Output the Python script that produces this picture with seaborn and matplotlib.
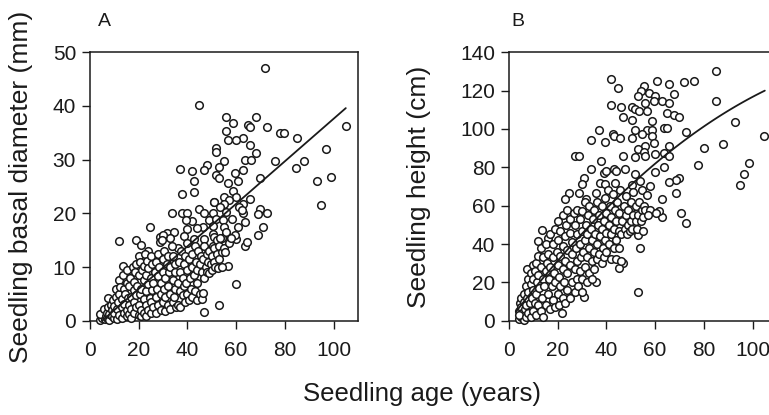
import numpy as np
import pandas as pd
import matplotlib
matplotlib.use("Agg")
import matplotlib.pyplot as plt
import seaborn as sns

# ---------------- Panel A: basal diameter (mm) vs age (years) ----------------
a_age = [71.7,44.9,55.8,68.0,58.8,55.8,65.0,65.8,72.8,77.8,79.8,105,84.8,62.8,56.8,59.8,65.8,51.8,51.8,96.8,
         68.0,76.0,87.8,63.8,66.0,54.9,47.9,84.6,36.8,41.8,46.9,52.8,62.8,51.8,59.7,52.8,69.8,93.0,99.0,42.9,
         60.9,56.8,42.9,58.8,37.9,54.9,59.8,65.8,50.8,62.8,94.9,44.9,69.8,33.7,37.9,39.9,72.8,46.9,62.8,68.9,
         41.8,63.8,24.8,70.9,68.9,11.8,18.8,59.8,63.8,56.8,59.8,53.1,46.9,13.7,
         57.2,51.1,54.9,53.5,61.0,62.4,50.4,55.9,39.6,48.8,51.8,54.5,46.4,50.4,55.2,60.6,31.6,34.3,39.8,43.9,
         50.4,55.9,59.6,28.8,32.9,38.4,42.5,46.6,50.8,54.1,64.4,30.0,20.9,23.9,28.7,36.0,
         4,4.5,5,5,5.5,6,6,4.2,5.8,6.5,
         7,7,7.5,7.5,8,8,8.5,9,9,9.5,10,10,10,10.5,10.5,
         11,11,11.5,12,12,12,12.5,13,13,13,13.5,14,14,14,14.5,15,15,15,15,15.5,
         16,16,16,16.5,17,17,17,17.5,18,18,18,18,18.5,19,19,19,19.5,20,20,20,20,20.5,20.5,
         21,21,21,21.5,22,22,22,22,22.5,23,23,23,23,23.5,24,24,24,24.5,25,25,25,25,25.5,25.5,
         26,26,26.5,27,27,27,27.5,28,28,28,28.5,29,29,29,29.5,30,30,30,30.5,30.5,
         31,31,31,31.5,32,32,32,32.5,33,33,33,33.5,34,34,34,34.5,35,35,35,35.5,
         36,36,36.5,37,37,37,37.5,38,38,38.5,38.5,39,39,39.5,40,40,40,40.5,40.5,41,
         41.5,42,42,42,42.5,43,43,43.5,44,44,44,44.5,45,45,45.5,46,46,46.5,46.5,47,
         47,47.5,48,48,48.5,49,49,49.5,50,50,50.5,51,51,51.5,52,52,52.5,
         53,53,54,54,55,55.5,56,57,58,58.5,53.5]
a_diam = [47.0,40.1,38.0,38.0,36.8,35.4,36.5,36.0,36.0,35.0,35.0,36.2,34.0,34.0,33.6,33.6,32.8,32.2,31.5,32.0,
          31.3,29.8,29.8,29.9,29.9,29.8,29.0,28.5,28.3,27.9,28.0,28.6,28.1,27.2,27.5,26.5,26.5,26.1,26.8,26.0,
          26.0,25.7,24.0,24.2,23.6,23.0,23.0,22.6,22.2,21.7,21.5,20.9,20.9,20.0,20.0,20.0,20.0,20.0,20.0,19.8,
          18.6,18.3,17.4,17.5,15.9,14.8,15.0,15.2,14.0,10.1,6.8,2.9,1.7,10.2,
          22.4,22.2,21.8,21.1,21.2,20.6,20.0,20.2,18.7,18.7,19.0,18.7,17.5,17.6,17.5,17.5,16.3,16.5,17.0,17.2,
          16.2,16.2,16.0,15.6,15.5,15.8,15.2,15.3,15.6,15.5,14.6,16.0,14.1,12.9,14.7,13.5,
          0.2,0.8,1.5,0.5,1.0,0.3,1.8,1.2,2.2,0.8,
          0.5,1.5,4.3,2.5,0.2,1.2,3.0,0.8,2.0,3.8,0.5,1.5,2.8,4.5,6.0,
          0.3,2.2,3.5,1.0,5.0,7.5,6.3,0.5,2.5,4.0,8.5,1.5,3.2,6.0,5.0,0.8,2.0,7.0,9.5,4.2,
          1.2,3.0,6.5,8.0,0.5,2.2,4.5,10.0,1.5,3.5,5.8,7.3,9.0,2.5,4.8,10.5,6.5,1.0,3.0,8.5,12.0,5.0,11.0,
          0.8,2.0,6.0,9.5,1.5,4.0,7.5,10.2,12.5,0.8,3.0,5.5,8.5,11.2,2.0,6.8,9.8,4.2,1.5,3.5,8.0,12.0,10.5,5.8,
          2.5,7.0,9.0,1.5,4.5,11.0,6.0,3.0,8.3,12.5,10.0,2.0,5.0,7.0,15.0,3.5,9.0,11.5,6.0,13.0,
          1.8,4.5,8.0,10.5,3.0,6.5,12.0,9.0,2.2,5.0,10.0,14.0,3.5,7.5,12.0,4.5,6.0,9.0,10.5,2.5,
          3.0,7.0,11.0,2.5,5.5,9.0,13.0,4.8,8.0,10.5,6.5,3.5,12.0,7.0,5.0,9.5,14.5,3.8,11.5,8.0,
          6.0,4.5,10.0,12.5,8.5,5.5,14.0,11.0,3.8,7.0,9.5,13.0,5.0,10.5,12.0,4.0,9.0,5.2,11.5,14.0,
          8.0,10.0,12.5,9.0,11.0,8.8,13.0,10.5,12.0,9.5,14.0,11.0,13.5,10.0,12.5,15.0,9.8,
          11.5,14.0,10.0,12.8,13.5,12.8,16.5,14.5,15.5,19.0,15.5]
a_fit_x = [5, 105]
a_fit_y = [0.0, 39.6]

# ---------------- Panel B: height (cm) vs age (years) ----------------
b_age = [84.8,41.7,44.7,60.8,65.8,71.7,75.9,55.6,54.3,57.6,59.8,52.8,67.8,62.7,65.6,56.0,59.7,84.8,41.7,46.0,
         50.5,51.9,53.2,56.6,64.9,67.6,69.7,46.6,50.5,58.7,92.6,63.5,64.9,51.9,36.8,56.6,58.7,72.8,54.6,42.5,
         42.9,45.7,50.5,58.7,104.7,33.6,39.5,59.4,87.8,65.6,56.0,80.0,52.8,55.3,63.5,26.9,28.8,46.6,51.9,65.8,
         55.7,59.8,98.5,37.7,77.6,63.8,43.3,33.6,47.7,44.1,59.8,38.8,39.8,51.9,96.4,30.7,69.7,68.6,37.4,43.6,
         65.6,53.6,94.7,29.9,39.5,50.5,54.6,58.0,24.7,28.8,35.7,68.7,56.8,62.8,22.8,31.8,50.5,70.8,72.8,62.8,
         52.8,53.9,53.1,46.9,45.0,35.8,30.9,21.8,13.7,11.7,15.9,7.4,
         4,4,4.5,5,5,5,5.5,6,6,6,6.5,4.2,
         7,7,7,7.5,8,8,8,8.5,9,9,9,9.5,10,10,10,10,10.5,10.5,
         11,11,11,11.5,12,12,12,12.5,13,13,13,13.5,14,14,14,14.5,15,15,15,15.5,
         16,16,16.5,17,17,17,17.5,18,18,18,18.5,19,19,19,19.5,20,20,20,20,20.5,20.5,
         21,21,21,22,22,22,22,22.5,23,23,23,23.5,24,24,24,24,25,25,25,25,
         26,26,26,26.5,27,27,27,27.5,28,28,28,28,28.5,29,29,29,29.5,30,30,30,30,30.5,
         31,31,31,31.5,32,32,32,32.5,33,33,33,33.5,34,34,34,34.5,35,35,35,35.5,36,
         36,36,36.5,37,37,37.5,38,38,38,38.5,39,39,39.5,39.5,40,40,40,40.5,41,41,41.5,
         42,42,42,42.5,43,43,43.5,44,44,44,44.5,45,45,45,45.5,46,46,46.5,47,47.5,
         48,48,48.5,49,49,49.5,50,50,50.5,51,51,52,52,52.5,53,53.5,54,54.5,55,55,55.5,
         56,58,61.5,57,60.5]
b_height = [130.4,126.3,121.6,125.2,123.5,124.5,125.2,122.4,120.0,118.6,117.2,117.2,118.3,114.8,113.4,113.4,114.8,114.4,112.3,111.3,
            111.3,110.3,109.6,109.4,108.2,107.3,106.4,106.4,104.7,104.3,103.5,100.3,100.3,99.5,99.5,99.5,99.5,98.3,97.2,97.2,
            96.3,95.1,95.5,96.5,96.3,94.3,93.0,92.5,92.2,91.3,91.3,90.3,89.4,88.2,87.3,86.1,86.1,86.1,85.6,86.1,
            85.9,87.0,82.4,83.1,81.4,80.3,79.3,79.3,79.3,78.3,77.4,77.2,78.1,76.5,76.3,74.3,74.3,73.4,72.0,72.0,
            72.2,73.0,70.6,71.3,71.3,70.8,68.2,70.3,66.4,66.4,66.8,66.4,65.4,63.5,63.3,63.3,59.1,56.3,51.1,54.3,
            44.5,38.1,15.1,29.9,27.3,20.3,12.5,4.2,47.3,41.7,43.1,26.8,
            1,5,9,2,7,12,4,0.5,10,14,6,3,
            2,8,18,12,4,15,22,9,2,19,25,12,5,16,22,29,9,26,
            3,14,30,20,8,24,34,17,5,28,38,12,22,33,2,18,8,26,40,30,
            14,35,22,6,28,45,18,11,33,40,25,7,20,48,36,14,29,42,52,23,8,
            18,34,47,12,27,39,55,20,9,31,44,50,16,25,37,58,12,29,46,53,
            20,35,41,56,15,27,50,38,22,31,45,58,18,26,40,53,33,15,22,47,57,36,
            28,42,62,50,20,33,45,55,25,38,60,48,22,31,42,53,27,36,58,45,62,
            32,40,50,35,55,44,30,48,60,38,33,52,42,64,36,46,56,68,40,50,60,
            32,45,54,66,38,48,58,32,42,52,62,38,47,56,68,45,31,52,60,48,
            55,65,45,50,58,47,52,62,48,55,67,52,60,48,55,62,52,58,47,54,60,
            57.7,57.7,57.0,55,56]
# fitted curve (quadratic through the origin)
b_fit_c1 = 1.6624
b_fit_c2 = -0.004948
b_fit_x = np.linspace(3, 105, 60)
b_fit_y = b_fit_c1 * b_fit_x + b_fit_c2 * b_fit_x ** 2

df_a = pd.DataFrame({"age": a_age, "val": a_diam})
df_b = pd.DataFrame({"age": b_age, "val": b_height})

sns.set_style("ticks")
plt.rcParams["font.family"] = ["Liberation Sans", "DejaVu Sans"]
ink = "#1a1a1a"

fig = plt.figure(figsize=(7.69, 4.15), dpi=100)
axA = fig.add_axes([0.117, 0.2272, 0.3485, 0.6468])
axB = fig.add_axes([0.6619, 0.2272, 0.3485, 0.6468])

for ax, df, fx, fy, ylim, yticks, ylabel, lab_x in [
    (axA, df_a, a_fit_x, a_fit_y, (0, 50), [0, 10, 20, 30, 40, 50], "Seedling basal diameter (mm)", -0.212),
    (axB, df_b, b_fit_x, b_fit_y, (0, 140), [0, 20, 40, 60, 80, 100, 120, 140], "Seedling height (cm)", -0.292),
]:
    sns.scatterplot(data=df, x="age", y="val", ax=ax, s=30, facecolor="white",
                    edgecolor=ink, linewidth=1.1, zorder=3, clip_on=False)
    sns.lineplot(x=fx, y=fy, ax=ax, color=ink, linewidth=1.3, zorder=4)
    ax.set_xlim(0, 110)
    ax.set_ylim(*ylim)
    ax.set_xticks([0, 20, 40, 60, 80, 100])
    ax.set_yticks(yticks)
    ax.set_xlabel("")
    ax.set_ylabel(ylabel, fontsize=19, color=ink)
    ax.yaxis.set_label_coords(lab_x, 0.5)
    ax.tick_params(direction="out", length=5.5, width=1.0, labelsize=15,
                   colors=ink, pad=4.5)
    ax.tick_params(axis="x", pad=9)
    for sp in ax.spines.values():
        sp.set_visible(True)
        sp.set_color(ink)
        sp.set_linewidth(1.1)

fig.text(98 / 769, 1 - 22 / 415, "A", fontsize=14, color=ink, ha="left", va="center")
fig.text(511 / 769, 1 - 21 / 415, "B", fontsize=14, color=ink, ha="left", va="center")
fig.text(422 / 769, 1 - 394 / 415, "Seedling age (years)", fontsize=18.5, color=ink,
         ha="center", va="center")

fig.savefig("out.png", dpi=100)
